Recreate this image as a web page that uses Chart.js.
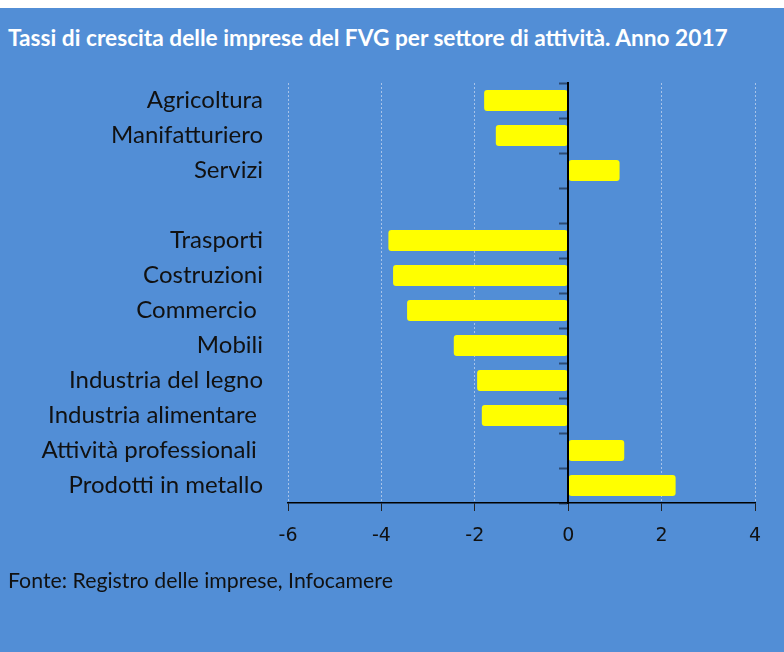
<!DOCTYPE html>
<html lang="it">
<head>
  <meta charset="UTF-8" />
  <title>Tassi di crescita delle imprese del FVG</title>
  <style>
    body {
      margin: 0;
      background-color: #ffffff;
    }
    .box {
      position: relative;
      width: 784px;
      height: 644px;
      margin-top: 8px;
      background-color: #528ed6;
      overflow: hidden;
    }
    .titolo {
      position: absolute;
      left: 8px;
      top: 16px;
      color: #ffffff;
      font-family: Lato, sans-serif;
      font-weight: bold;
      font-size: 22.7px;
      white-space: nowrap;
    }
    .fonte {
      position: absolute;
      left: 8px;
      top: 559px;
      color: #111111;
      font-family: Lato, sans-serif;
      font-size: 21.3px;
      white-space: nowrap;
    }
    canvas {
      position: absolute;
      left: 0;
      top: -8px;
    }
  </style>
</head>
<body>
  <div class="box">
    <div class="titolo">Tassi di crescita delle imprese del FVG per settore di attività. Anno 2017</div>
    <canvas id="grafico" width="784" height="652"></canvas>
    <div class="fonte">Fonte: Registro delle imprese, Infocamere</div>
  </div>

  <script src="https://cdn.jsdelivr.net/npm/chart.js"></script>
  <script>
    // settori (la riga vuota separa i due gruppi)
    const settori = ['Agricoltura', 'Manifatturiero', 'Servizi', '', 'Trasporti', 'Costruzioni', 'Commercio ',
      'Mobili', 'Industria del legno', 'Industria alimentare ', 'Attività professionali ', 'Prodotti in metallo'];
    const tassi = [-1.8, -1.55, 1.1, null, -3.85, -3.75, -3.45, -2.45, -1.95, -1.85, 1.2, 2.3];
    const tickX = [-6, -4, -2, 0, 2, 4];

    const ctx = document.getElementById('grafico').getContext('2d');
    new Chart(ctx, {
      type: 'bar',
      data: {
        labels: settori,
        datasets: [{
          label: 'Tasso di crescita',
          data: tassi,
          backgroundColor: '#ffff00',
          borderRadius: 3,
          borderSkipped: false,
          categoryPercentage: 0.6,
          barPercentage: 1
        }]
      },
      options: {
        indexAxis: 'y',
        responsive: false,
        animation: false,
        layout: {
          padding: { top: 83, right: 29, bottom: 0, left: 0 }
        },
        plugins: {
          legend: { display: false },
          tooltip: { enabled: false }
        },
        scales: {
          x: {
            min: tickX[0],
            max: tickX[tickX.length - 1],
            afterBuildTicks: (scale) => { scale.ticks = tickX.map(v => ({ value: v })); },
            afterFit: (scale) => { scale.height = 149; },
            grid: {
              color: (c) => c.tick && c.tick.value === 0 ? 'rgba(0,0,0,0)' : '#a8c3e8',
              lineWidth: 1,
              tickColor: '#222222',
              tickLength: 8,
              tickWidth: 1
            },
            border: { display: true, color: '#000000', width: 1.5, dash: [2, 2] },
            ticks: {
              color: '#111111',
              padding: 14,
              font: { family: 'DejaVu Sans', size: 19 }
            }
          },
          y: {
            afterFit: (scale) => { scale.width = 288; },
            grid: { display: false },
            border: { display: false },
            ticks: {
              color: '#111111',
              padding: 17,
              font: { family: 'Lato', size: 24 }
            }
          },
          zero: {
            type: 'category',
            axis: 'y',
            position: { x: 0 },
            grid: {
              drawOnChartArea: false,
              tickColor: '#2c4a72',
              tickLength: 8,
              tickWidth: 2
            },
            border: { display: true, color: '#000000', width: 2, z: 1 },
            ticks: { display: false }
          }
        }
      }
    });
  </script>
</body>
</html>
